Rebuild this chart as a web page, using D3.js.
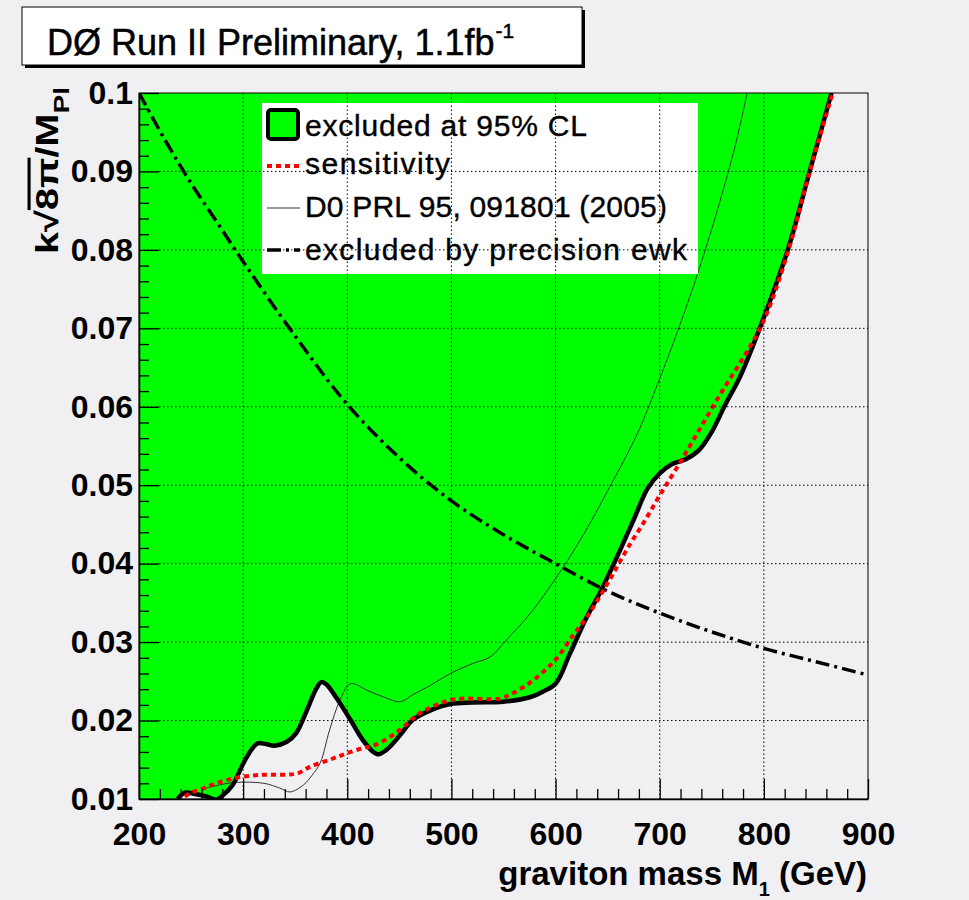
<!DOCTYPE html>
<html>
<head>
<meta charset="utf-8">
<script src="https://cdn.jsdelivr.net/npm/d3@7"></script>
<style>
  body { margin: 0; background: #f0f0f3; }
  svg { display: block; }
  text { font-family: "Liberation Sans", Arial, Helvetica, sans-serif; }
</style>
</head>
<body>
<svg id="chart" width="969" height="900"></svg>
<script>
// Graviton mass (GeV) vs. coupling k*sqrt(8pi)/M_Pl

// Axis ticks and labels
const massTicks = [200, 300, 400, 500, 600, 700, 800, 900];
const massTickLabels = ["200", "300", "400", "500", "600", "700", "800", "900"];
const couplingTicks = [0.01, 0.02, 0.03, 0.04, 0.05, 0.06, 0.07, 0.08, 0.09, 0.1];
const couplingTickLabels = ["0.01", "0.02", "0.03", "0.04", "0.05", "0.06", "0.07", "0.08", "0.09", "0.1"];

// Observed 95% CL limit (lower edge of the excluded region)
const observedMass = [237, 244, 255, 265, 274, 280, 290, 300, 308, 314, 322, 330, 342, 351, 358, 364, 370, 375, 380, 390, 403, 415, 424, 430, 437, 444, 454, 463, 480, 499, 520, 550, 576, 588, 600, 614, 630, 643, 656, 675, 688, 700, 712, 725, 738, 750, 763, 777, 796, 823, 844, 865];
const observedLimit = [0.0100, 0.0108, 0.0106, 0.0103, 0.0099, 0.0104, 0.0118, 0.0145, 0.0163, 0.0171, 0.0170, 0.0168, 0.0173, 0.0184, 0.0203, 0.0222, 0.0240, 0.0249, 0.0246, 0.0228, 0.0201, 0.0175, 0.0161, 0.0157, 0.0162, 0.0171, 0.0187, 0.0201, 0.0213, 0.0221, 0.0223, 0.0224, 0.0230, 0.0237, 0.0247, 0.0286, 0.0332, 0.0364, 0.0400, 0.0456, 0.0495, 0.0515, 0.0527, 0.0533, 0.0545, 0.0568, 0.0603, 0.0638, 0.0700, 0.0800, 0.0900, 0.1000];

// Expected sensitivity
const expectedMass = [244, 250, 259, 268, 276, 287, 297, 310, 320, 342, 353, 364, 383, 399, 415, 425, 441, 454, 467, 479, 489, 499, 511, 547, 556, 572, 588, 601, 617, 630, 646, 659, 672, 684, 700, 720, 740, 760, 780, 800, 823, 844, 866];
const expectedLimit = [0.0103, 0.0108, 0.0112, 0.0117, 0.0121, 0.0125, 0.0128, 0.0130, 0.0131, 0.0131, 0.0133, 0.0141, 0.0150, 0.0158, 0.0165, 0.0168, 0.0179, 0.0192, 0.0207, 0.0216, 0.0222, 0.0226, 0.0228, 0.0228, 0.0233, 0.0245, 0.0262, 0.0279, 0.0309, 0.0332, 0.0366, 0.0396, 0.0426, 0.0451, 0.0487, 0.0530, 0.0575, 0.0620, 0.0662, 0.0710, 0.0797, 0.0900, 0.1000];

// Earlier DØ result, PRL 95, 091801 (2005)
const prlMass = [262, 271, 291, 320, 335, 345, 358, 366, 374, 383, 393, 403, 420, 435, 451, 463, 480, 499, 521, 537, 553, 576, 601, 620, 635, 650, 665, 680, 700, 716, 732, 748, 760, 772, 784];
const prlLimit = [0.0113, 0.0116, 0.0121, 0.0120, 0.0114, 0.0109, 0.0118, 0.0130, 0.0146, 0.0188, 0.0226, 0.0247, 0.0238, 0.0230, 0.0224, 0.0233, 0.0245, 0.0260, 0.0273, 0.0281, 0.0303, 0.0337, 0.0383, 0.0422, 0.0456, 0.0493, 0.0530, 0.0570, 0.0636, 0.0692, 0.0752, 0.0818, 0.0872, 0.0930, 0.1000];

// Precision electroweak bound
const ewkMass = [200, 225, 250, 275, 300, 350, 400, 450, 500, 550, 600, 650, 700, 750, 800, 850, 900];
const ewkLimit = [0.1000, 0.0940, 0.0885, 0.0835, 0.0785, 0.0690, 0.0603, 0.0535, 0.0480, 0.0437, 0.0400, 0.0365, 0.0337, 0.0313, 0.0292, 0.0275, 0.0258];

const legendLabels = ["excluded at 95% CL", "sensitivity", "D0 PRL 95, 091801 (2005)", "excluded by precision ewk"];

const svg = d3.select("#chart");
const L = 139, R = 868, T = 93, B = 799;

const x = d3.scaleLinear().domain([200, 900]).range([L, R]);
const y = d3.scaleLinear().domain([0.01, 0.1]).range([B, T]);

const zip = (a, b) => a.map((m, i) => [m, b[i]]);
const observed = zip(observedMass, observedLimit);
const expected = zip(expectedMass, expectedLimit);
const prl = zip(prlMass, prlLimit);
const ewk = zip(ewkMass, ewkLimit);

svg.append("defs").append("clipPath").attr("id", "frame")
  .append("rect").attr("x", L).attr("y", T).attr("width", R - L).attr("height", B - T);

const plot = svg.append("g").attr("clip-path", "url(#frame)");

const line = d3.line().x(d => x(d[0])).y(d => y(d[1])).curve(d3.curveCatmullRom.alpha(0.5));

// Excluded region: everything above the observed limit, plus the low-mass corner
plot.append("path")
  .attr("d", "M" + x(200) + "," + y(0.1) + "L" + x(200) + "," + (B + 5) + "L" + x(observedMass[0]) + "," + (B + 5) +
        line(observed).replace(/^M/, "L") + "Z")
  .attr("fill", "#00ff00");

// Curves
plot.append("path").attr("d", line(ewk))
  .attr("fill", "none").attr("stroke", "#000").attr("stroke-width", 3.5)
  .attr("stroke-dasharray", "14,5,3,5");
plot.append("path").attr("d", line(prl))
  .attr("fill", "none").attr("stroke", "#333").attr("stroke-width", 1);
plot.append("path").attr("d", line(observed))
  .attr("fill", "none").attr("stroke", "#000").attr("stroke-width", 4.5).attr("stroke-linejoin", "round");
plot.append("path").attr("d", line(expected))
  .attr("fill", "none").attr("stroke", "#ff0000").attr("stroke-width", 4)
  .attr("stroke-dasharray", "5,4");

// Legend
const leg = svg.append("g");
leg.append("rect").attr("x", 262).attr("y", 103).attr("width", 436).attr("height", 171).attr("fill", "#fff");
leg.append("rect").attr("x", 268).attr("y", 110).attr("width", 30).attr("height", 29).attr("rx", 3)
  .attr("fill", "#00ff00").attr("stroke", "#000").attr("stroke-width", 4);
leg.append("line").attr("x1", 267).attr("x2", 300).attr("y1", 166).attr("y2", 166)
  .attr("stroke", "#ff0000").attr("stroke-width", 4).attr("stroke-dasharray", "5,4");
leg.append("line").attr("x1", 267).attr("x2", 300).attr("y1", 208).attr("y2", 208)
  .attr("stroke", "#333").attr("stroke-width", 1);
leg.append("line").attr("x1", 267).attr("x2", 300).attr("y1", 250).attr("y2", 250)
  .attr("stroke", "#000").attr("stroke-width", 3.5).attr("stroke-dasharray", "14,5,3,5");
const legY = [136, 174, 217, 260];
const legW = [282, 145, 362, 382];
legendLabels.forEach((t, i) => {
  leg.append("text").attr("x", 305).attr("y", legY[i])
    .attr("font-size", 30).attr("textLength", legW[i]).attr("lengthAdjust", "spacing")
    .attr("stroke", "#000").attr("stroke-width", 0.4)
    .text(t);
});

// Dotted grid, drawn over everything in the frame
const grid = svg.append("g").attr("stroke", "#000").attr("stroke-width", 1).attr("stroke-dasharray", "1.5,2.5");
massTicks.slice(1, -1).forEach(m => {
  grid.append("line").attr("x1", x(m)).attr("x2", x(m)).attr("y1", B).attr("y2", T);
});
couplingTicks.slice(1, -1).forEach(k => {
  grid.append("line").attr("x1", L).attr("x2", R).attr("y1", y(k)).attr("y2", y(k));
});

// Frame
svg.append("rect").attr("x", L).attr("y", T).attr("width", R - L).attr("height", B - T)
  .attr("fill", "none").attr("stroke", "#000").attr("stroke-width", 1);

// Axes with major and minor ticks pointing inwards
const minorMass = d3.range(200, 901, 20).filter(m => m % 100 !== 0);
const minorK = d3.range(0, 46).map(i => 0.01 + i * 0.002).filter((k, i) => i % 5 !== 0);

const xAxis = svg.append("g").attr("transform", `translate(0,${B})`)
  .call(d3.axisBottom(x).tickValues(massTicks).tickFormat((d, i) => massTickLabels[i])
    .tickSizeInner(-20).tickSizeOuter(0).tickPadding(23));
svg.append("g").attr("transform", `translate(0,${B})`)
  .call(d3.axisBottom(x).tickValues(minorMass).tickFormat("").tickSizeInner(-10).tickSizeOuter(0))
  .select(".domain").remove();

const yAxis = svg.append("g").attr("transform", `translate(${L},0)`)
  .call(d3.axisLeft(y).tickValues(couplingTicks).tickFormat((d, i) => couplingTickLabels[i])
    .tickSizeInner(-20).tickSizeOuter(0).tickPadding(6));
svg.append("g").attr("transform", `translate(${L},0)`)
  .call(d3.axisLeft(y).tickValues(minorK).tickFormat("").tickSizeInner(-10).tickSizeOuter(0))
  .select(".domain").remove();

svg.selectAll(".tick line").attr("stroke", "#000").attr("stroke-width", 1.3);
svg.selectAll(".domain").attr("stroke", "#000").attr("stroke-width", 1.5);
[xAxis, yAxis].forEach(a => a.selectAll("text")
  .attr("font-family", "'Liberation Sans', Arial, sans-serif")
  .attr("font-size", 32).attr("font-weight", "bold").attr("fill", "#000"));

// Axis titles
const xt = svg.append("text").attr("x", 867).attr("y", 885).attr("text-anchor", "end")
  .attr("font-size", 33).attr("font-weight", "bold");
xt.append("tspan").text("graviton mass M");
xt.append("tspan").attr("font-size", 20).attr("dy", 11).text("1");
xt.append("tspan").attr("dy", -11).text(" (GeV)");

const yt = svg.append("text").attr("transform", "translate(58,87) rotate(-90) scale(1.28,1)")
  .attr("text-anchor", "end").attr("font-size", 31).attr("font-weight", "bold");
yt.append("tspan").text("k\u221A");
yt.append("tspan").attr("text-decoration", "overline").text("8\u03C0");
yt.append("tspan").text("/M");
yt.append("tspan").attr("font-size", 22).attr("dy", 11).text("Pl");

// Title box with drop shadow
const tb = svg.append("g");
tb.append("rect").attr("x", 25).attr("y", 10).attr("width", 560).attr("height", 58).attr("fill", "#000");
tb.append("rect").attr("x", 22).attr("y", 7).attr("width", 560).attr("height", 58)
  .attr("fill", "#fff").attr("stroke", "#000").attr("stroke-width", 1);
const tt = tb.append("text").attr("x", 47).attr("y", 55).attr("font-size", 36)
  .attr("stroke", "#000").attr("stroke-width", 0.5);
tt.append("tspan").text("D\u00D8 Run II Preliminary, 1.1fb");
tt.append("tspan").attr("font-size", 21).attr("dy", -17).attr("dx", 1).text("-1");
</script>
</body>
</html>
